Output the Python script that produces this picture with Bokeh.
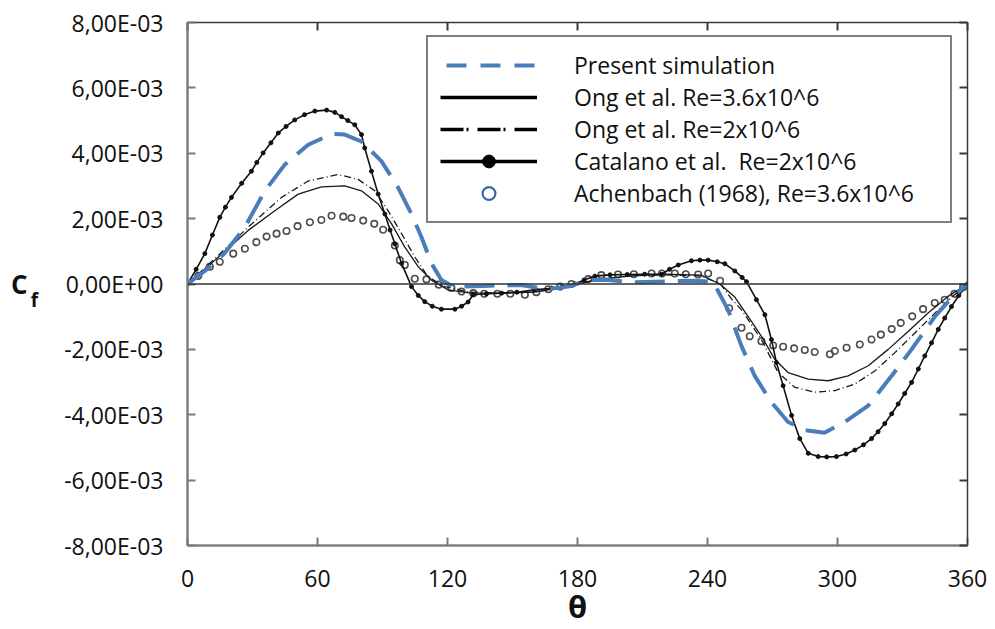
import numpy as np
from bokeh.plotting import figure
from bokeh.models import (Range1d, FixedTicker, CustomJSTickFormatter, LinearAxis,
                          Span, Legend, LegendItem)
from bokeh.embed import file_html
from bokeh.resources import INLINE

# ---------------- data (Cf values in units of 1e-3) ----------------
x_ticks = [0, 60, 120, 180, 240, 300, 360]
y_ticks = [-0.008, -0.006, -0.004, -0.002, 0.0, 0.002, 0.004, 0.006, 0.008]
y_tick_labels = ["-8,00E-03", "-6,00E-03", "-4,00E-03", "-2,00E-03", "0,00E+00",
                 "2,00E-03", "4,00E-03", "6,00E-03", "8,00E-03"]

series_names = ["Present simulation", "Ong et al. Re=3.6x10^6", "Ong et al. Re=2x10^6",
                "Catalano et al.  Re=2x10^6", "Achenbach (1968), Re=3.6x10^6"]

sim_theta = [0, 8, 17, 26.5, 35.7, 45, 55.7, 66.5, 72.6, 80.3, 89.5, 97.2, 103.4, 108,
             112.6, 117.2, 123, 128, 140, 154, 165, 175.7, 185, 194, 206.5, 220, 234,
             242.6, 249.5, 255.7, 261.8, 269.5, 277.2, 284.9, 294, 303.4, 314.2, 325,
             334.2, 345, 352.6, 360]
sim_cf = [0, 0.40, 0.93, 1.74, 2.85, 3.66, 4.26, 4.59, 4.57, 4.36, 3.76, 2.95, 2.14, 1.43,
          0.63, 0.12, -0.10, -0.08, -0.05, -0.03, -0.16, -0.08, 0.12, 0.12, 0.05, 0.08, 0.10,
          0.07, -0.79, -1.90, -2.81, -3.62, -4.22, -4.47, -4.55, -4.22, -3.72, -2.81,
          -2.00, -0.99, -0.43, 0]

ong36_theta = [0, 12.6, 28, 40.3, 51.1, 61.8, 72.6, 80.3, 88, 94.2, 100.3, 106.5, 112.6,
               120.3, 130, 145, 160, 172, 180, 190, 205, 220, 237, 245.7, 252.6, 258.8,
               264.9, 271, 277.2, 286.5, 295.7, 304.9, 314.2, 323.4, 332.6, 341.8, 351, 360]
ong36_cf = [0, 0.73, 1.64, 2.24, 2.75, 2.97, 3.00, 2.85, 2.45, 1.84, 1.13, 0.53, 0.12,
            -0.18, -0.27, -0.28, -0.25, -0.12, 0.0, 0.15, 0.25, 0.30, 0.27, 0.0, -0.40,
            -1.00, -1.60, -2.30, -2.71, -2.91, -2.96, -2.81, -2.50, -2.00, -1.45, -0.89,
            -0.38, 0]

ong2_theta = [0, 13, 28, 43.4, 55.7, 69.5, 78.8, 86.5, 92.6, 98.8, 104.9, 111, 118.8, 130,
              145, 160, 172, 180, 190, 205, 220, 237, 246, 251, 255.7, 264.9, 272.6, 280.3,
              289.5, 298.8, 308, 317.2, 326.5, 335.7, 345, 354, 360]
ong2_cf = [0, 0.80, 1.74, 2.65, 3.15, 3.35, 3.20, 2.85, 2.24, 1.54, 0.83, 0.22, -0.08,
           -0.25, -0.28, -0.25, -0.12, 0.0, 0.15, 0.25, 0.28, 0.25, 0.0, -0.45, -0.79,
           -1.70, -2.71, -3.16, -3.31, -3.26, -3.06, -2.66, -2.10, -1.50, -0.89, -0.33, 0]

cat_theta = [0, 4, 8, 11.5, 14.9, 17.5, 20.3, 25, 29.5, 32, 34.9, 38.5, 41.9, 45.5, 49.5,
             54, 58.8, 64.2, 68, 71.1, 74, 77.2, 80.3, 81.8, 84.9, 88, 91.1, 93.5, 95.7,
             98.8, 103.4, 106.5, 109.5, 113, 117.2, 123.4, 126.5, 129.5, 131.9, 138, 145,
             152, 160.3, 168, 173, 178.8, 183, 188, 195, 203, 211, 218.8, 222.5, 226.5,
             232.6, 236.5, 240.3, 244.5, 248, 252.6, 256, 258, 262.6, 266.5, 269.5, 271.8,
             274.9, 278.8, 282.6, 286.5, 291.1, 295, 299.5, 304, 308, 312, 315.7, 318.7,
             321.8, 325, 328, 331, 334.2, 337.3, 340.3, 343.4, 346.5, 349.5, 352.6, 356, 360]
cat_cf = [0, 0.45, 0.93, 1.50, 2.04, 2.35, 2.65, 3.08, 3.45, 3.72, 4.01, 4.32, 4.62, 4.82,
          5.02, 5.18, 5.29, 5.32, 5.25, 5.12, 5.00, 4.87, 4.57, 4.16, 3.45, 2.75, 2.14, 1.65,
          1.23, 0.63, -0.08, -0.35, -0.54, -0.68, -0.77, -0.77, -0.68, -0.55, -0.33, -0.30,
          -0.28, -0.25, -0.18, -0.13, -0.08, 0.0, 0.12, 0.24, 0.28, 0.29, 0.30, 0.30, 0.45,
          0.58, 0.71, 0.73, 0.73, 0.68, 0.62, 0.40, 0.20, 0.07, -0.48, -0.94, -1.70, -2.40,
          -3.11, -4.02, -4.73, -5.18, -5.28, -5.29, -5.28, -5.20, -5.08, -4.92, -4.73, -4.52,
          -4.27, -3.97, -3.67, -3.35, -3.01, -2.60, -2.20, -1.80, -1.39, -1.04, -0.69, -0.35, 0]

ach_theta = [5, 10.3, 14.9, 21.1, 26.5, 31.8, 36.5, 41.1, 45.7, 50.8, 56.5, 61.8, 66.5, 71.9,
             75.7, 81.1, 86.2, 90.3, 95.7, 98, 100.3, 104.9, 110.3, 116, 121.8, 126.5, 131.9,
             137, 143, 149, 155.7, 161, 166.5, 172, 177.2, 185, 191, 198.7, 206, 214.2, 219,
             224.9, 230, 235.7, 240.3, 245.8, 250, 255.7, 259.5, 264.9, 270.3, 274.9, 280,
             284.9, 289.5, 296.5, 298.8, 304.2, 310.3, 315.7, 320, 325, 329.2, 334.5, 339.5,
             344.9, 349.5, 354, 358]
ach_cf = [0.25, 0.53, 0.68, 0.93, 1.08, 1.28, 1.45, 1.54, 1.62, 1.77, 1.89, 1.96, 2.09, 2.06,
          2.02, 1.94, 1.84, 1.66, 1.18, 0.73, 0.58, 0.16, 0.14, -0.02, -0.12, -0.23, -0.28,
          -0.30, -0.30, -0.30, -0.33, -0.25, -0.16, -0.08, 0.0, 0.15, 0.27, 0.29, 0.30, 0.32,
          0.32, 0.32, 0.30, 0.29, 0.32, 0.10, -0.74, -1.34, -1.60, -1.75, -1.88, -1.92, -1.97,
          -2.02, -2.08, -2.15, -2.05, -1.95, -1.85, -1.70, -1.55, -1.38, -1.19, -0.99, -0.77,
          -0.58, -0.48, -0.30, -0.10]

E3 = 1e-3
BLUE = "#4a7ebb"
FONT = "Open Sans"
INK = "#111111"

p = figure(width=995, height=629, output_backend="svg", toolbar_location=None,
           x_range=Range1d(0, 360), y_range=Range1d(-0.008, 0.008),
           min_border_left=187, min_border_right=28, min_border_top=22,
           min_border_bottom=84)
p.grid.visible = False
p.outline_line_color = "#3a3a3a"
p.outline_line_width = 1.5
p.background_fill_color = "white"
p.border_fill_color = "white"

# axes
xa = p.xaxis[0]
xa.ticker = FixedTicker(ticks=x_ticks)
ya = p.yaxis[0]
ya.ticker = FixedTicker(ticks=y_ticks)
ya.formatter = CustomJSTickFormatter(args=dict(tvals=y_ticks, tlabels=y_tick_labels), code="""
let best = 0, bd = Infinity;
for (let i = 0; i < tvals.length; i++) {
  const d = Math.abs(tvals[i] - tick);
  if (d < bd) { bd = d; best = i; }
}
return tlabels[best];
""")

for ax in (xa, ya):
    ax.axis_line_color = "#7a7a7a"
    ax.axis_line_width = 2
    ax.major_tick_line_color = "#7a7a7a"
    ax.major_tick_line_width = 2
    ax.major_tick_in = 8
    ax.major_tick_out = 0
    ax.minor_tick_line_color = None
    ax.major_label_text_font = FONT
    ax.major_label_text_color = INK

ya.major_label_text_font_size = "23px"
ya.major_label_standoff = 24
# subscript "f" of C_f as the y-axis label (horizontal, pushed down one half line)
ya.axis_label = "\nf"
ya.axis_label_orientation = "horizontal"
ya.axis_label_text_font = FONT
ya.axis_label_text_font_style = "bold"
ya.axis_label_text_font_size = "19px"
ya.axis_label_text_color = INK
ya.axis_label_standoff = 23

# "C" of C_f on an outer, tick-less left axis
ca = LinearAxis(ticker=FixedTicker(ticks=[]), axis_line_color=None,
                major_tick_line_color=None, minor_tick_line_color=None,
                major_tick_in=0, major_tick_out=0, major_label_standoff=0,
                axis_label="C", axis_label_standoff=0)
ca.axis_label_orientation = "horizontal"
ca.axis_label_text_font = FONT
ca.axis_label_text_font_style = "bold"
ca.axis_label_text_font_size = "26px"
ca.axis_label_text_color = INK
p.add_layout(ca, "left")

xa.major_label_text_font_size = "23px"
xa.major_label_standoff = 24
xa.axis_label = "θ"
xa.axis_label_text_font = FONT
xa.axis_label_text_font_style = "bold"
xa.axis_label_text_font_size = "31px"
xa.axis_label_standoff = -5
xa.axis_label_text_color = INK

# frame ticks on the right and top (labels not drawn)
for side, tk in (("right", y_ticks), ("above", x_ticks)):
    ax2 = LinearAxis(ticker=FixedTicker(ticks=tk), major_label_text_font_size="1px",
                     major_label_text_color=None, major_label_standoff=0,
                     major_tick_in=8, major_tick_out=0, minor_tick_line_color=None,
                     axis_line_color="#3a3a3a", major_tick_line_color="#3a3a3a",
                     major_tick_line_width=2)
    p.add_layout(ax2, side)

p.add_layout(Span(location=0, dimension="width", line_color="#333333", line_width=1.5))

# data renderers
p.scatter(ach_theta, np.array(ach_cf) * E3, marker="circle", size=6.5,
          fill_color="white", fill_alpha=0, line_color="#4d4d4d", line_width=1.6)
p.line(ong36_theta, np.array(ong36_cf) * E3, line_color="#1a1a1a", line_width=1.3)
p.line(ong2_theta, np.array(ong2_cf) * E3, line_color="#1a1a1a", line_width=1.3,
       line_dash="7 3 1 3")
p.line(cat_theta, np.array(cat_cf) * E3, line_color=INK, line_width=1.6)
p.scatter(cat_theta, np.array(cat_cf) * E3, marker="circle", size=4,
          fill_color=INK, line_color=INK)
p.line(sim_theta, np.array(sim_cf) * E3, line_color=BLUE, line_width=4,
       line_dash="30 13")

# legend-only renderers
nan = [np.nan]
l_sim = p.line(nan, nan, line_color=BLUE, line_width=4, line_dash="20 14",
               line_dash_offset=28)
l_o36 = p.line(nan, nan, line_color="black", line_width=3.5)
l_o2 = p.line(nan, nan, line_color="black", line_width=3.5, line_dash="23 3 2 9")
l_cat = p.line(nan, nan, line_color="black", line_width=3.5)
l_catm = p.scatter(nan, nan, marker="circle", size=12, fill_color="black",
                   line_color="black")
l_ach = p.scatter(nan, nan, marker="circle", size=8, fill_color="white",
                  line_color="#3b64a8", line_width=2.2)

legend = Legend(items=[
    LegendItem(label=series_names[0], renderers=[l_sim]),
    LegendItem(label=series_names[1], renderers=[l_o36]),
    LegendItem(label=series_names[2], renderers=[l_o2]),
    LegendItem(label=series_names[3], renderers=[l_cat, l_catm]),
    LegendItem(label=series_names[4], renderers=[l_ach]),
], location=(239, 322), orientation="vertical")
legend.border_line_color = "black"
legend.border_line_width = 2
legend.background_fill_color = "white"
legend.background_fill_alpha = 1
legend.label_text_font = FONT
legend.label_text_font_size = "23px"
legend.label_text_color = INK
legend.label_text_baseline = "middle"
legend.padding = 12
legend.spacing = 0
legend.margin = 0
legend.glyph_width = 97
legend.glyph_height = 32
legend.label_height = 32
legend.label_standoff = 37
legend.label_width = 364
p.add_layout(legend, "center")

open("out.html", "w").write(file_html(p, INLINE))
